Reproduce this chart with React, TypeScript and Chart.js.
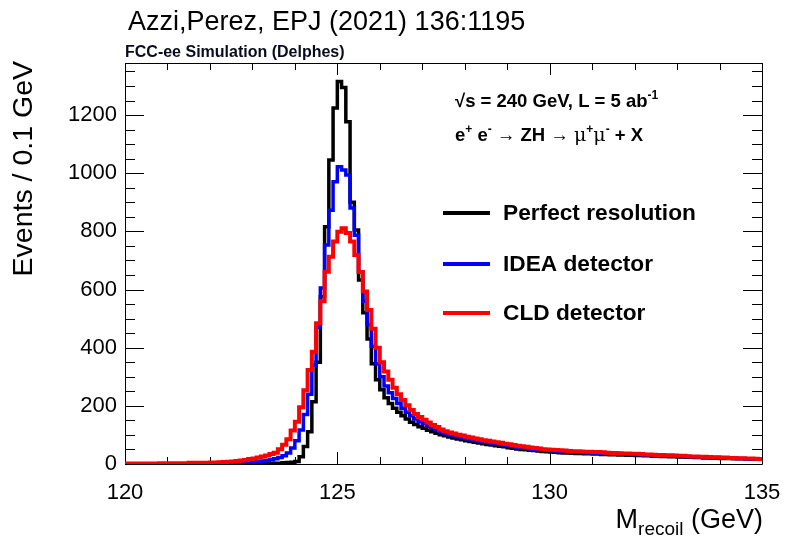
import React, { useEffect, useRef } from 'react';
import { Chart, registerables } from 'chart.js';

Chart.register(...registerables);

// Histogram: 150 bins of 0.1 GeV from 120 to 135 GeV
const binLow = 120;
const binWidth = 0.1;

const perfectResolution = [
  0, 0, 0, 0, 0, 0, 0, 0, 0, 0,
  0, 0, 0, 0, 0, 0, 0, 0, 0, 0,
  0, 0, 0, 0, 0, 0, 0, 0, 0, 1,
  1, 1, 1, 2, 2, 3, 3, 4, 5, 6,
  9, 25, 60, 111, 214, 350, 575, 816, 1045, 1224,
  1315, 1295, 1177, 900, 805, 633, 520, 430, 345, 290,
  255, 228, 208, 192, 178, 166, 155, 144, 136, 128,
  123, 116, 111, 106, 101, 97, 93, 89, 86, 83,
  80, 77, 75, 72, 70, 67, 65, 63, 61, 59,
  56, 54, 52, 50, 49, 47, 46, 45, 43, 42,
  41, 40, 39, 38, 38, 37, 36, 36, 35, 35,
  34, 34, 33, 33, 32, 32, 31, 31, 30, 30,
  29, 29, 28, 28, 27, 27, 26, 26, 25, 25,
  24, 24, 23, 23, 22, 22, 21, 21, 20, 20,
  19, 19, 19, 18, 18, 18, 17, 17, 17, 16,
];

const ideaDetector = [
  0, 0, 0, 0, 0, 0, 0, 0, 0, 0,
  0, 0, 0, 0, 0, 0, 0, 1, 1, 1,
  1, 2, 2, 2, 3, 3, 4, 4, 5, 6,
  7, 8, 10, 12, 15, 18, 22, 28, 38, 55,
  80, 117, 170, 240, 340, 470, 605, 753, 873, 971,
  1022, 1011, 994, 880, 787, 661, 560, 480, 405, 345,
  300, 268, 245, 225, 208, 192, 178, 166, 155, 146,
  138, 130, 123, 117, 111, 106, 101, 97, 94, 90,
  87, 84, 81, 79, 76, 74, 71, 69, 67, 65,
  62, 60, 58, 56, 54, 52, 51, 49, 48, 47,
  46, 45, 44, 43, 42, 41, 41, 40, 39, 39,
  38, 37, 37, 36, 36, 35, 34, 34, 33, 33,
  32, 32, 31, 31, 30, 30, 29, 28, 28, 27,
  27, 26, 26, 25, 24, 24, 23, 23, 22, 22,
  21, 21, 20, 20, 19, 19, 18, 18, 17, 17,
];

const cldDetector = [
  2, 2, 2, 2, 2, 2, 2, 2, 3, 2,
  3, 3, 3, 3, 3, 4, 3, 4, 4, 4,
  5, 5, 6, 7, 8, 9, 10, 12, 14, 17,
  19, 22, 26, 29, 34, 39, 51, 66, 85, 115,
  145, 195, 254, 323, 386, 484, 560, 661, 713, 765,
  799, 811, 794, 765, 719, 660, 593, 530, 465, 400,
  350, 318, 290, 262, 240, 220, 202, 186, 172, 162,
  152, 143, 134, 127, 119, 113, 108, 105, 101, 98,
  94, 91, 88, 85, 82, 80, 77, 75, 73, 70,
  68, 65, 63, 61, 59, 57, 55, 53, 51, 50,
  49, 48, 47, 46, 45, 44, 44, 43, 42, 42,
  41, 41, 40, 39, 38, 38, 37, 36, 36, 35,
  35, 34, 33, 33, 32, 31, 31, 30, 30, 29,
  28, 28, 27, 26, 26, 25, 25, 24, 23, 23,
  22, 22, 21, 21, 20, 20, 19, 19, 18, 17,
];

const xTickLabels = [120, 125, 130, 135];
const xMinorTicks = [121, 122, 123, 124, 126, 127, 128, 129, 131, 132, 133, 134];
const yTickLabels = [0, 200, 400, 600, 800, 1000, 1200];
const yMinorStep = 50;
const xMin = 120;
const xMax = 135;
const yMax = 1379;

const seriesNames = ['Perfect resolution', 'IDEA detector', 'CLD detector'];
const seriesColors = ['#000000', '#0000ff', '#ff0000'];

const FONT = "'Liberation Sans', Arial, Helvetica, sans-serif";

function toSteps(values: number[]) {
  const pts = values.map((v, i) => ({ x: +(binLow + i * binWidth).toFixed(2), y: v }));
  pts.push({ x: +(binLow + values.length * binWidth).toFixed(2), y: values[values.length - 1] });
  return pts;
}

type Seg = { t: string; font: string; dy?: number };

function drawSegs(ctx: CanvasRenderingContext2D, segs: Seg[], x: number, y: number, align: 'left' | 'right' = 'left') {
  let total = 0;
  for (const s of segs) {
    ctx.font = s.font;
    total += ctx.measureText(s.t).width;
  }
  let cx = align === 'left' ? x : x - total;
  ctx.textAlign = 'left';
  ctx.textBaseline = 'alphabetic';
  for (const s of segs) {
    ctx.font = s.font;
    ctx.fillText(s.t, cx, y + (s.dy || 0));
    cx += ctx.measureText(s.t).width;
  }
}

const decorPlugin = {
  id: 'decor',
  beforeDatasetsDraw(chart: any) {
    const ctx: CanvasRenderingContext2D = chart.ctx;
    const { left, right, top, bottom } = chart.chartArea;
    const xs = chart.scales.x;
    const ys = chart.scales.y;
    ctx.save();
    ctx.strokeStyle = '#000';
    ctx.lineWidth = 1;
    ctx.beginPath();
    ctx.rect(Math.round(left) + 0.5, Math.round(top) + 0.5, Math.round(right - left), Math.round(bottom - top));
    ctx.stroke();
    ctx.beginPath();
    // x ticks (bottom and top, inside)
    const xMajorLen = 12;
    const xMinorLen = 7;
    for (const v of xTickLabels) {
      const px = Math.round(xs.getPixelForValue(v)) + 0.5;
      ctx.moveTo(px, bottom); ctx.lineTo(px, bottom - xMajorLen);
      ctx.moveTo(px, top); ctx.lineTo(px, top + xMajorLen);
    }
    for (const v of xMinorTicks) {
      const px = Math.round(xs.getPixelForValue(v)) + 0.5;
      ctx.moveTo(px, bottom); ctx.lineTo(px, bottom - xMinorLen);
      ctx.moveTo(px, top); ctx.lineTo(px, top + xMinorLen);
    }
    // y ticks (left and right, inside)
    const yMajorLen = 19;
    const yMinorLen = 10;
    for (let v = 0; v <= yMax; v += yMinorStep) {
      const py = Math.round(ys.getPixelForValue(v)) + 0.5;
      const len = v % 200 === 0 ? yMajorLen : yMinorLen;
      ctx.moveTo(left, py); ctx.lineTo(left + len, py);
      ctx.moveTo(right, py); ctx.lineTo(right - len, py);
    }
    ctx.stroke();
    ctx.restore();
  },
  afterDraw(chart: any) {
    const ctx: CanvasRenderingContext2D = chart.ctx;
    const { right, bottom } = chart.chartArea;
    const xs = chart.scales.x;
    ctx.save();
    ctx.fillStyle = '#000';

    // x tick labels
    ctx.font = `22px ${FONT}`;
    ctx.textAlign = 'center';
    ctx.textBaseline = 'middle';
    for (const v of xTickLabels) {
      ctx.fillText(String(v), xs.getPixelForValue(v), bottom + 29);
    }

    // Header
    ctx.font = `27px ${FONT}`;
    ctx.textAlign = 'left';
    ctx.textBaseline = 'alphabetic';
    ctx.fillText('Azzi,Perez, EPJ (2021) 136:1195', 128, 30);

    ctx.fillStyle = '#0a0a1e';
    ctx.font = `bold 16px ${FONT}`;
    ctx.fillText('FCC-ee Simulation (Delphes)', 125, 57);
    ctx.fillStyle = '#000';

    // Annotations
    const b18 = `bold 18.5px ${FONT}`;
    const bSup = `bold 12px ${FONT}`;
    const n18 = `18.5px ${FONT}`;
    const mu = `19px 'DejaVu Serif', serif`;
    drawSegs(ctx, [
      { t: '\u221As = 240 GeV, L = 5 ab', font: b18 },
      { t: '-1', font: bSup, dy: -8 },
    ], 455, 107);
    drawSegs(ctx, [
      { t: 'e', font: b18 },
      { t: '+', font: bSup, dy: -8 },
      { t: ' e', font: b18 },
      { t: '-', font: bSup, dy: -8 },
      { t: ' \u2192 ', font: n18 },
      { t: 'ZH', font: b18 },
      { t: ' \u2192 ', font: n18 },
      { t: '\u03BC', font: mu },
      { t: '+', font: bSup, dy: -8 },
      { t: '\u03BC', font: mu },
      { t: '-', font: bSup, dy: -8 },
      { t: ' + X', font: b18 },
    ], 455, 141);

    // Legend
    const legendY = [213, 264, 313];
    for (let i = 0; i < 3; i++) {
      ctx.strokeStyle = seriesColors[i];
      ctx.lineWidth = 4;
      ctx.beginPath();
      ctx.moveTo(443, legendY[i]);
      ctx.lineTo(490, legendY[i]);
      ctx.stroke();
      ctx.fillStyle = '#000';
      ctx.font = `bold 22.7px ${FONT}`;
      ctx.textAlign = 'left';
      ctx.textBaseline = 'middle';
      ctx.fillText(seriesNames[i], 503, legendY[i] + 1);
    }

    // Axis titles
    ctx.fillStyle = '#000';
    drawSegs(ctx, [
      { t: 'M', font: `27px ${FONT}` },
      { t: 'recoil', font: `19px ${FONT}`, dy: 7 },
      { t: ' (GeV)', font: `27px ${FONT}` },
    ], right + 1, 528, 'right');

    ctx.save();
    ctx.translate(32, 61);
    ctx.rotate(-Math.PI / 2);
    ctx.font = `28.5px ${FONT}`;
    ctx.textAlign = 'right';
    ctx.textBaseline = 'alphabetic';
    ctx.fillText('Events / 0.1 GeV', 0, 0);
    ctx.restore();

    ctx.restore();
  },
};

export default function App() {
  const canvasRef = useRef<HTMLCanvasElement | null>(null);

  useEffect(() => {
    document.body.style.margin = '0';
    const canvas = canvasRef.current;
    if (!canvas) return;
    const series = [cldDetector, ideaDetector, perfectResolution];
    const colors = ['#ff0000', '#0000ff', '#000000'];
    const widths = [4, 3.5, 3.5];
    const names = ['CLD detector', 'IDEA detector', 'Perfect resolution'];
    const chart = new Chart(canvas, {
      type: 'line',
      data: {
        datasets: series.map((s, i) => ({
          label: names[i],
          data: toSteps(s),
          borderColor: colors[i],
          backgroundColor: colors[i],
          borderWidth: widths[i],
          stepped: true,
          pointRadius: 0,
          fill: false,
          order: i,
          borderJoinStyle: 'miter' as const,
          borderCapStyle: 'butt' as const,
        })),
      },
      options: {
        responsive: false,
        animation: false,
        devicePixelRatio: 1,
        layout: { padding: { top: 63, right: 24, left: 0, bottom: 0 } },
        plugins: {
          legend: { display: false },
          tooltip: { enabled: false },
          title: { display: false },
        },
        scales: {
          x: {
            type: 'linear',
            min: xMin,
            max: xMax,
            grid: { display: false, drawTicks: false },
            border: { display: false },
            ticks: { display: false },
            afterBuildTicks: (s: any) => {
              s.ticks = xTickLabels.map((v) => ({ value: v }));
            },
            afterFit: (s: any) => {
              s.height = 72;
            },
          },
          y: {
            type: 'linear',
            min: 0,
            max: yMax,
            grid: { display: false, drawTicks: false },
            border: { display: false },
            ticks: {
              font: { family: FONT, size: 22 },
              color: '#000',
              padding: 8,
              callback: (v: any) => String(v),
            },
            afterBuildTicks: (s: any) => {
              s.ticks = yTickLabels.map((v) => ({ value: v }));
            },
            afterFit: (s: any) => {
              s.width = 125;
            },
          },
        },
      },
      plugins: [decorPlugin],
    });
    return () => chart.destroy();
  }, []);

  return (
    <div style={{ width: 786, height: 536, background: '#fff' }}>
      <canvas ref={canvasRef} width={786} height={536} style={{ display: 'block' }} />
    </div>
  );
}
